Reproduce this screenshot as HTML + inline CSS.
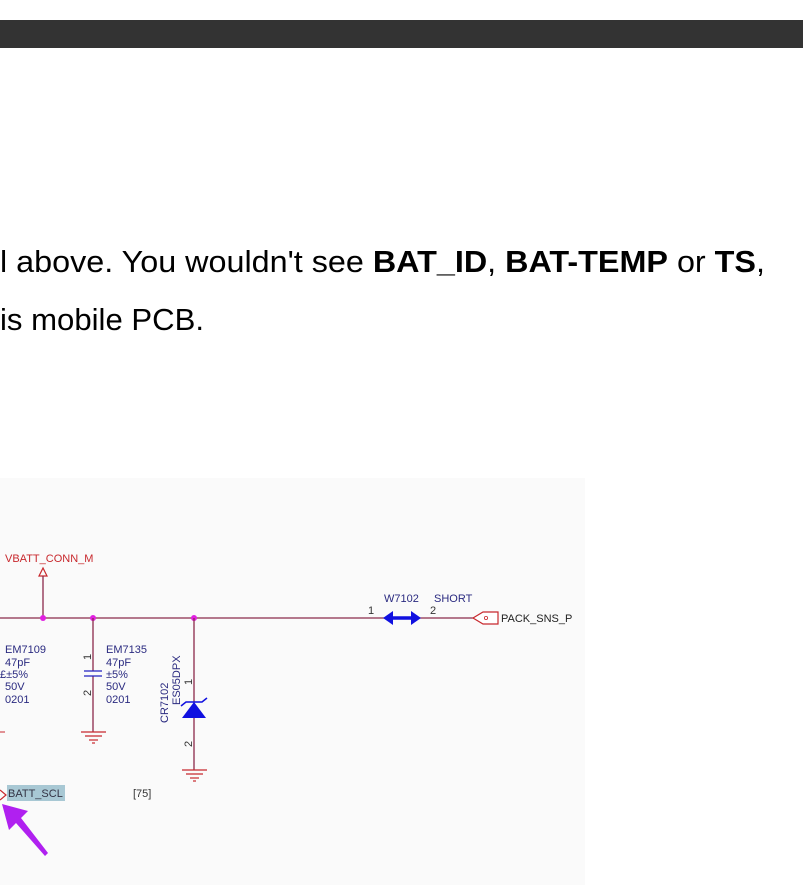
<!DOCTYPE html>
<html><head><meta charset="utf-8"><style>
html,body{margin:0;padding:0;background:#fff;width:803px;height:885px;overflow:hidden}
svg{display:block}
</style></head><body>
<svg width="803" height="885" viewBox="0 0 803 885" xmlns="http://www.w3.org/2000/svg" font-family="Liberation Sans, Arial, sans-serif">
<rect x="0" y="0" width="803" height="885" fill="#fff"/>
<rect x="0" y="20" width="803" height="28" fill="#333"/>
<text x="0" y="272" font-size="31" fill="#000" textLength="765" lengthAdjust="spacingAndGlyphs">l above. You wouldn't see <tspan font-weight="bold">BAT_ID</tspan>, <tspan font-weight="bold">BAT-TEMP</tspan> or <tspan font-weight="bold">TS</tspan>,</text>
<text x="0" y="330" font-size="31" fill="#000" textLength="204" lengthAdjust="spacingAndGlyphs">is mobile PCB.</text>
<rect x="0" y="478" width="585" height="407" fill="#fafafa"/>
<g font-size="11">
<text x="5" y="562" fill="#c8282d">VBATT_CONN_M</text>
<polygon points="43,568 39,576 47,576" fill="none" stroke="#c8282d" stroke-width="1.2"/>
<line x1="43" y1="576" x2="43" y2="618" stroke="#8b2a4a" stroke-width="1.3"/>
<line x1="0" y1="618" x2="478" y2="618" stroke="#8b2a4a" stroke-width="1.3"/>
<circle cx="43" cy="618" r="3" fill="#e020e0"/>
<circle cx="93" cy="618" r="3" fill="#e020e0"/>
<circle cx="194" cy="618" r="3" fill="#e020e0"/>
<text x="5" y="653" fill="#2a2a80">EM7109</text>
<text x="5" y="666" fill="#2a2a80">47pF</text>
<text x="0" y="678" fill="#2a2a80">£±5%</text>
<text x="5" y="690" fill="#2a2a80">50V</text>
<text x="5" y="703" fill="#2a2a80">0201</text>
<line x1="0" y1="732" x2="5" y2="732" stroke="#c8282d"/>
<line x1="93" y1="618" x2="93" y2="671" stroke="#8b2a4a" stroke-width="1.3"/>
<line x1="93" y1="676" x2="93" y2="732" stroke="#8b2a4a" stroke-width="1.3"/>
<line x1="84" y1="671" x2="102" y2="671" stroke="#2020c0" stroke-width="1.3"/>
<line x1="84" y1="676" x2="102" y2="676" stroke="#2020c0" stroke-width="1.3"/>
<text fill="#333" transform="translate(91,660) rotate(-90)">1</text>
<text fill="#333" transform="translate(91,696) rotate(-90)">2</text>
<text x="106" y="653" fill="#2a2a80">EM7135</text>
<text x="106" y="666" fill="#2a2a80">47pF</text>
<text x="106" y="678" fill="#2a2a80">±5%</text>
<text x="106" y="690" fill="#2a2a80">50V</text>
<text x="106" y="703" fill="#2a2a80">0201</text>
<g stroke="#c8282d" stroke-width="1.2"><line x1="81" y1="732" x2="106" y2="732"/><line x1="85" y1="736" x2="102" y2="736"/><line x1="89" y1="740" x2="98" y2="740"/><line x1="92" y1="743" x2="95" y2="743"/></g>
<line x1="194" y1="618" x2="194" y2="770" stroke="#8b2a4a" stroke-width="1.3"/>
<polygon points="182,718 206,718 194,702" fill="#1010e0"/>
<polyline points="181,706 186,702 202,702 207,698" fill="none" stroke="#1010e0" stroke-width="1.5"/>
<text fill="#2a2a80" transform="translate(168,723) rotate(-90)">CR7102</text>
<text fill="#2a2a80" transform="translate(180,705) rotate(-90)">ES05DPX</text>
<text fill="#333" transform="translate(192,685) rotate(-90)">1</text>
<text fill="#333" transform="translate(192,747) rotate(-90)">2</text>
<g stroke="#c8282d" stroke-width="1.2"><line x1="182" y1="770" x2="207" y2="770"/><line x1="186" y1="774" x2="203" y2="774"/><line x1="190" y1="778" x2="199" y2="778"/><line x1="193" y1="781" x2="196" y2="781"/></g>
<text x="384" y="602" fill="#2a2a80">W7102</text>
<text x="434" y="602" fill="#2a2a80">SHORT</text>
<text x="368" y="614" fill="#333">1</text>
<text x="430" y="614" fill="#333">2</text>
<line x1="386" y1="618" x2="418" y2="618" stroke="#1010e0" stroke-width="3.5"/>
<polygon points="383,618 393,611 393,625" fill="#1010e0"/>
<polygon points="421,618 411,611 411,625" fill="#1010e0"/>
<polygon points="473,618 483,612 498,612 498,624 483,624" fill="#fff" stroke="#c8282d" stroke-width="1.2"/>
<circle cx="486" cy="618" r="1.6" fill="none" stroke="#c8282d" stroke-width="0.8"/>
<text x="501" y="622" fill="#222">PACK_SNS_P</text>
<rect x="7" y="785" width="58" height="16" fill="#a8c8d4"/>
<polyline points="0,790 6,795 0,800" fill="none" stroke="#c8282d" stroke-width="1.2"/>
<text x="8" y="797" fill="#334">BATT_SCL</text>
<text x="133" y="797" fill="#333">[75]</text>
<polygon points="2,804 28,811 21,818 48,853 45,856 16,823 9,830" fill="#b020f0"/>
</g>
</svg>
</body></html>
